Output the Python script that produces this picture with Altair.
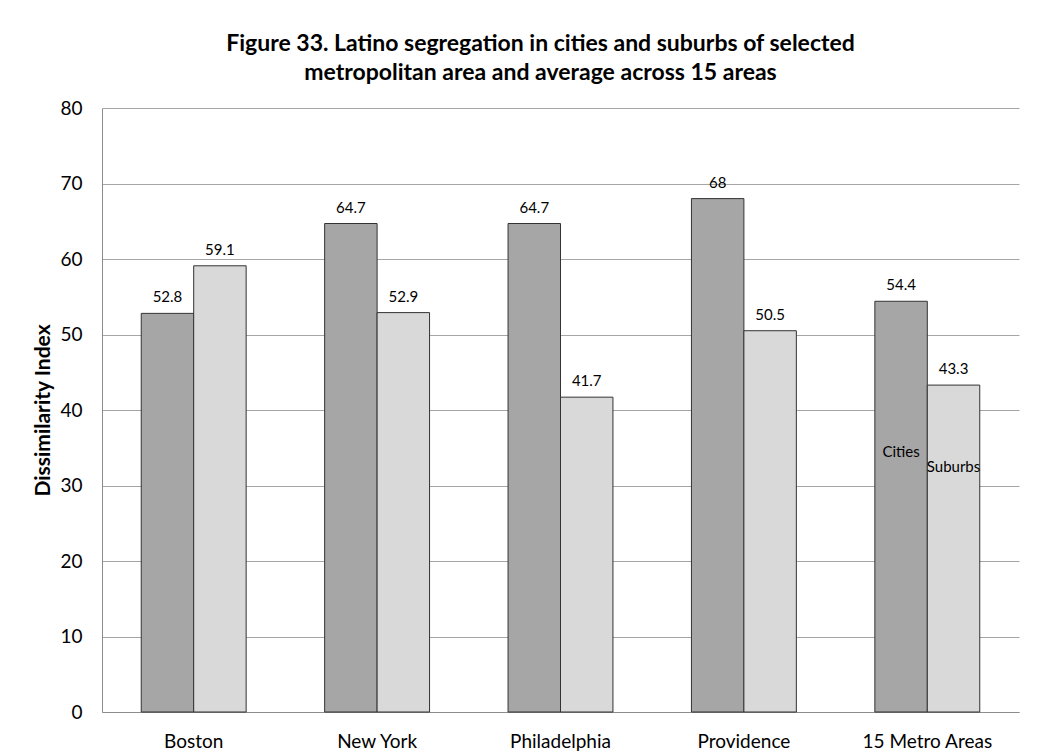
import altair as alt
import pandas as pd

areas = ["Boston", "New York", "Philadelphia", "Providence", "15 Metro Areas"]
cities = [52.8, 64.7, 64.7, 68.0, 54.4]
suburbs = [59.1, 52.9, 41.7, 50.5, 43.3]
series = ["Cities", "Suburbs"]
colors = ["#a6a6a6", "#d9d9d9"]

rows = []
for a, c, s in zip(areas, cities, suburbs):
    rows.append({"area": a, "type": "Cities", "value": c, "label": f"{c:g}"})
    rows.append({"area": a, "type": "Suburbs", "value": s, "label": f"{s:g}"})
df = pd.DataFrame(rows)

notes = pd.DataFrame({
    "area": ["15 Metro Areas", "15 Metro Areas"],
    "type": ["Cities", "Suburbs"],
    "value": [34.4, 32.5],
    "label": ["Cities", "Suburbs"],
})

FONT = "Lato"

x = alt.X("area:N", sort=areas, title=None,
          scale=alt.Scale(paddingInner=0.428, paddingOuter=0.214),
          axis=alt.Axis(labelAngle=0, labelFontSize=19, labelColor="black",
                        ticks=False, labelPadding=20, domainColor="#8c8c8c",
                        labelFont=FONT))
xo = alt.XOffset("type:N", sort=series)

bars = alt.Chart(df).mark_bar(stroke="#333333", strokeWidth=1).encode(
    x=x, xOffset=xo,
    y=alt.Y("value:Q", title="Dissimilarity Index",
            scale=alt.Scale(domain=[0, 80]),
            axis=alt.Axis(values=list(range(0, 81, 10)), labelFontSize=19,
                          labelColor="black", ticks=False, labelPadding=20,
                          gridColor="#a6a6a6", domainColor="#8c8c8c",
                          titleFontSize=21, titleFontWeight="bold",
                          titleColor="black", titlePadding=6,
                          labelFont=FONT, titleFont=FONT)),
    color=alt.Color("type:N", sort=series,
                    scale=alt.Scale(domain=series, range=colors), legend=None),
)

labels = alt.Chart(df).mark_text(baseline="bottom", dy=-8, fontSize=15,
                                 color="black", font=FONT).encode(
    x=x, xOffset=xo, y="value:Q", text="label:N")

note_text = alt.Chart(notes).mark_text(baseline="middle", fontSize=15,
                                       color="black", font=FONT).encode(
    x=x, xOffset=xo, y="value:Q", text="label:N")

chart = (bars + labels + note_text).properties(
    width=917, height=604,
    title=alt.Title(["Figure 33. Latino segregation in cities and suburbs of selected",
                     "metropolitan area and average across 15 areas"],
                    fontSize=23, fontWeight="bold", font=FONT, color="black",
                    lineHeight=29, anchor="middle", dx=-20, offset=14),
    autosize=alt.AutoSizeParams(type="none"),
    padding={"left": 94, "top": 100, "right": 5, "bottom": 40},
).configure_view(stroke=None).configure_axisX(grid=False)

chart.save("out.html", embed_options={"renderer": "svg", "actions": False})
